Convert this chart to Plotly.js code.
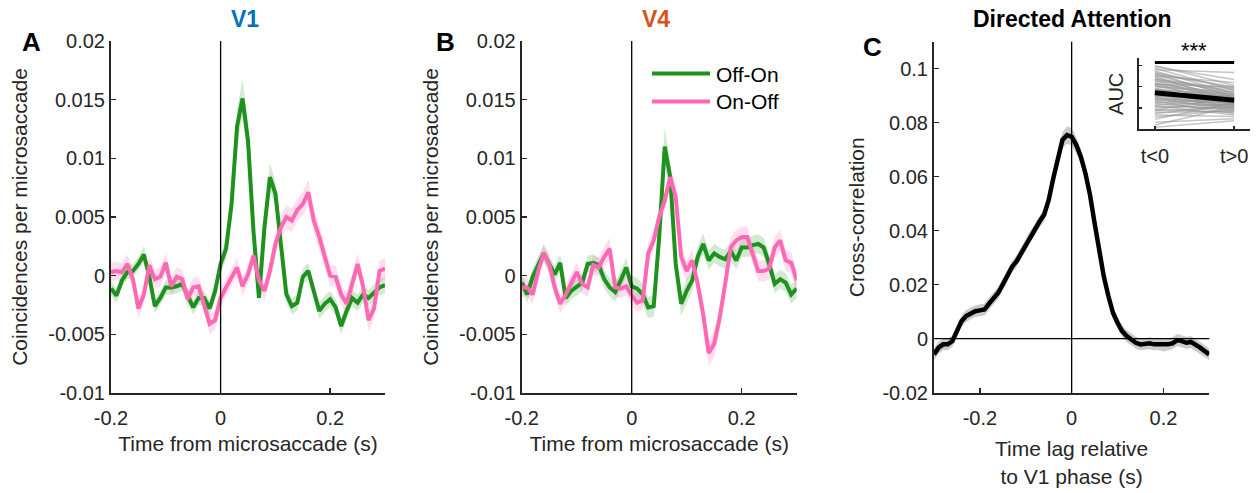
<!DOCTYPE html>
<html>
<head>
<meta charset="utf-8">
<script src="https://cdn.plot.ly/plotly-3.0.1.min.js"></script>
<style>html,body{margin:0;padding:0;background:#fff}#chart{width:1258px;height:493px}</style>
</head>
<body>
<div id="chart"></div>
<script>
// ---- Data ----
const timeAB = [-0.20,-0.19,-0.18,-0.17,-0.16,-0.15,-0.14,-0.13,-0.12,-0.11,-0.10,-0.09,-0.08,-0.07,-0.06,-0.05,-0.04,-0.03,-0.02,-0.01,
  0.00,0.01,0.02,0.03,0.04,0.05,0.06,0.07,0.08,0.09,0.10,0.11,0.12,0.13,0.14,0.15,0.16,0.17,0.18,0.19,0.20,0.21,0.22,0.23,0.24,0.25,0.26,0.27,0.28,0.29,0.30];

const v1OffOn = [-0.0011,-0.0017,-0.0004,0.0003,0.0004,0.0010,0.0018,-0.0001,-0.0026,-0.0019,-0.0010,-0.0010,-0.0009,-0.0007,-0.0017,-0.0027,-0.0019,-0.0019,-0.0028,-0.0013,
  0.0010,0.0023,0.0061,0.0127,0.0151,0.0115,0.0038,-0.0019,0.0041,0.0084,0.0070,0.0027,-0.0016,-0.0026,-0.0023,-0.0001,0.0004,-0.0013,-0.0030,-0.0024,-0.0020,-0.0027,-0.0043,-0.0030,-0.0019,-0.0023,-0.0016,-0.0019,-0.0014,-0.0010,-0.0008];
const v1OffOnErr = [0.0006,0.0006,0.0006,0.0006,0.0006,0.0006,0.0007,0.0006,0.0006,0.0006,0.0006,0.0006,0.0006,0.0006,0.0006,0.0006,0.0006,0.0006,0.0006,0.0007,
  0.0008,0.0009,0.0011,0.0015,0.0016,0.0015,0.0011,0.0008,0.0010,0.0012,0.0010,0.0008,0.0007,0.0007,0.0007,0.0007,0.0007,0.0007,0.0007,0.0007,0.0007,0.0007,0.0007,0.0007,0.0007,0.0007,0.0007,0.0007,0.0007,0.0007,0.0007];
const v1OnOff = [0.0003,0.0004,0.0003,0.0010,-0.0003,-0.0028,-0.0016,0.0009,-0.0003,-0.0001,0.0011,-0.0009,-0.0001,-0.0003,-0.0020,-0.0010,-0.0009,-0.0024,-0.0041,-0.0038,
  -0.0019,-0.0010,-0.0001,0.0007,-0.0009,0.0001,0.0017,-0.0004,-0.0013,0.0004,0.0027,0.0041,0.0050,0.0047,0.0056,0.0061,0.0071,0.0047,0.0033,0.0016,0.0000,-0.0001,-0.0016,-0.0024,-0.0007,0.0010,-0.0009,-0.0038,-0.0028,0.0004,0.0006];
const v1OnOffErr = [0.0008,0.0008,0.0008,0.0008,0.0008,0.0009,0.0008,0.0008,0.0008,0.0008,0.0008,0.0008,0.0008,0.0008,0.0008,0.0008,0.0008,0.0008,0.0009,0.0008,
  0.0008,0.0008,0.0008,0.0008,0.0008,0.0008,0.0009,0.0008,0.0008,0.0009,0.0010,0.0010,0.0010,0.0010,0.0010,0.0010,0.0011,0.0010,0.0010,0.0009,0.0009,0.0009,0.0009,0.0009,0.0009,0.0009,0.0009,0.0009,0.0009,0.0009,0.0009];

const v4OffOn = [-0.0006,-0.0016,-0.0001,0.0010,0.0019,0.0010,0.0001,0.0011,-0.0019,-0.0013,-0.0010,-0.0006,0.0010,0.0011,0.0009,-0.0003,-0.0010,-0.0014,-0.0004,0.0007,
  -0.0009,-0.0011,-0.0016,-0.0027,-0.0026,0.0033,0.0110,0.0084,0.0010,-0.0024,-0.0013,-0.0004,0.0016,0.0027,0.0013,0.0019,0.0016,0.0014,0.0021,0.0013,0.0024,0.0024,0.0026,0.0027,0.0024,0.0010,-0.0007,-0.0003,-0.0006,-0.0016,-0.0011];
const v4OffOnErr = [0.0007,0.0007,0.0007,0.0007,0.0007,0.0007,0.0007,0.0007,0.0007,0.0007,0.0007,0.0007,0.0007,0.0007,0.0007,0.0008,0.0008,0.0008,0.0008,0.0008,
  0.0009,0.0009,0.0009,0.0009,0.0009,0.0011,0.0016,0.0013,0.0011,0.0010,0.0010,0.0009,0.0009,0.0009,0.0008,0.0008,0.0008,0.0008,0.0008,0.0008,0.0008,0.0008,0.0008,0.0008,0.0008,0.0008,0.0008,0.0008,0.0008,0.0008,0.0008];
const v4OnOff = [-0.0010,-0.0010,-0.0016,0.0004,0.0019,0.0010,-0.0010,-0.0024,-0.0016,-0.0007,0.0003,-0.0007,-0.0010,0.0009,0.0007,0.0016,0.0023,-0.0010,-0.0011,-0.0009,
  -0.0017,-0.0023,-0.0021,0.0019,0.0030,0.0050,0.0064,0.0084,0.0067,0.0016,0.0004,0.0013,-0.0007,-0.0033,-0.0066,-0.0058,-0.0036,-0.0007,0.0024,0.0030,0.0033,0.0033,0.0019,0.0004,0.0004,0.0006,0.0024,0.0030,0.0013,0.0011,-0.0004];
const v4OnOffErr = [0.0008,0.0008,0.0008,0.0008,0.0008,0.0008,0.0008,0.0008,0.0008,0.0008,0.0008,0.0008,0.0008,0.0008,0.0008,0.0009,0.0009,0.0008,0.0008,0.0008,
  0.0008,0.0008,0.0008,0.0009,0.0009,0.0009,0.0009,0.0010,0.0010,0.0009,0.0009,0.0009,0.0009,0.0010,0.0011,0.0011,0.0010,0.0009,0.0009,0.0009,0.0009,0.0009,0.0009,0.0009,0.0009,0.0009,0.0009,0.0009,0.0009,0.0009,0.0009];

const lagC = [-0.30,-0.29,-0.28,-0.27,-0.26,-0.25,-0.24,-0.23,-0.22,-0.21,-0.20,-0.19,-0.18,-0.17,-0.16,-0.15,-0.14,-0.13,-0.12,-0.11,-0.10,-0.09,-0.08,-0.07,-0.06,-0.05,-0.04,-0.03,-0.02,-0.01,
  0.00,0.01,0.02,0.03,0.04,0.05,0.06,0.07,0.08,0.09,0.10,0.11,0.12,0.13,0.14,0.15,0.16,0.17,0.18,0.19,0.20,0.21,0.22,0.23,0.24,0.25,0.26,0.27,0.28,0.29,0.30];
const xcorrC = [-0.0058,-0.0033,-0.0021,-0.0021,-0.0009,0.0028,0.0065,0.0084,0.0094,0.0102,0.0105,0.0108,0.0130,0.0148,0.0170,0.0201,0.0231,0.0266,0.0287,0.0318,0.0348,0.0379,0.0404,0.0434,0.0459,0.0514,0.0594,0.0674,0.0736,0.0754,
  0.0748,0.0718,0.0674,0.0613,0.0533,0.0428,0.0318,0.0231,0.0158,0.0096,0.0059,0.0028,0.0010,-0.0002,-0.0015,-0.0021,-0.0018,-0.0017,-0.0021,-0.0021,-0.0025,-0.0021,-0.0017,-0.0005,-0.0009,-0.0015,-0.0012,-0.0021,-0.0033,-0.0046,-0.0058];
const xcorrErr = [0.0022,0.0022,0.0022,0.0022,0.0022,0.0022,0.0022,0.0022,0.0022,0.0022,0.0022,0.0022,0.0022,0.0022,0.0022,0.0022,0.0022,0.0022,0.0022,0.0022,0.0022,0.0022,0.0022,0.0023,0.0024,0.0025,0.0026,0.0028,0.0030,0.0032,
  0.0032,0.0030,0.0028,0.0026,0.0025,0.0024,0.0023,0.0022,0.0022,0.0022,0.0022,0.0022,0.0022,0.0022,0.0022,0.0022,0.0022,0.0022,0.0022,0.0022,0.0022,0.0022,0.0022,0.0022,0.0022,0.0022,0.0022,0.0022,0.0022,0.0022,0.0022];

// inset: per-pair AUC before (t<0) and after (t>0)
const insetCats = [1, 2];
const insetLabels = ['t<0', 't>0'];
const aucBefore = [0.90,0.88,0.86,0.84,0.82,0.80,0.79,0.78,0.76,0.75,0.74,0.72,0.71,0.70,0.69,0.68,0.66,0.65,0.64,0.63,0.62,0.61,0.60,0.58,0.57,0.56,0.55,0.54,0.53,0.52,
  0.51,0.50,0.49,0.48,0.47,0.46,0.45,0.44,0.43,0.42,0.41,0.40,0.38,0.37,0.36,0.34,0.33,0.32,0.30,0.28,0.27,0.26,0.24,0.22,0.20,0.17,0.14,0.10,0.06,0.03];
const aucAfter  = [0.62,0.70,0.55,0.80,0.50,0.58,0.45,0.60,0.48,0.66,0.40,0.52,0.44,0.57,0.38,0.55,0.42,0.49,0.35,0.60,0.47,0.40,0.53,0.33,0.45,0.37,0.50,0.30,0.42,0.46,
  0.36,0.28,0.44,0.39,0.32,0.48,0.25,0.35,0.41,0.30,0.38,0.22,0.33,0.43,0.27,0.40,0.20,0.30,0.36,0.24,0.45,0.31,0.25,0.35,0.18,0.28,0.38,0.15,0.32,0.12];
const aucMean = [0.515, 0.41];
const sigBar = [0.94, 0.94];

const legendNames = ['Off-On', 'On-Off'];

// ---- Styling ----
const GREEN = 'rgb(30,145,30)';
const GREEN_BAND = 'rgba(30,145,30,0.2)';
const PINK = 'rgb(255,105,180)';
const PINK_BAND = 'rgba(255,105,180,0.22)';
const AX = '#262626';
const FONT = 'Liberation Sans, Arial, Helvetica, sans-serif';

function band(x, y, e, color, xa, ya) {
  const up = y.map((v, i) => v + e[i]);
  const lo = y.map((v, i) => v - e[i]);
  return {x: x.concat(x.slice().reverse()), y: up.concat(lo.slice().reverse()),
    type: 'scatter', mode: 'lines', fill: 'toself', fillcolor: color, line: {width: 0},
    hoverinfo: 'skip', showlegend: false, xaxis: xa, yaxis: ya};
}
function line(x, y, color, w, xa, ya, name) {
  return {x: x, y: y, type: 'scatter', mode: 'lines', line: {color: color, width: w},
    xaxis: xa, yaxis: ya, name: name || '', showlegend: false};
}

const traces = [
  band(timeAB, v1OffOn, v1OffOnErr, GREEN_BAND, 'x', 'y'),
  band(timeAB, v1OnOff, v1OnOffErr, PINK_BAND, 'x', 'y'),
  line(timeAB, v1OffOn, GREEN, 4, 'x', 'y', legendNames[0]),
  line(timeAB, v1OnOff, PINK, 4, 'x', 'y', legendNames[1]),
  band(timeAB, v4OffOn, v4OffOnErr, GREEN_BAND, 'x2', 'y2'),
  band(timeAB, v4OnOff, v4OnOffErr, PINK_BAND, 'x2', 'y2'),
  line(timeAB, v4OffOn, GREEN, 4, 'x2', 'y2', legendNames[0]),
  line(timeAB, v4OnOff, PINK, 4, 'x2', 'y2', legendNames[1]),
  band(lagC, xcorrC, xcorrErr, 'rgba(170,170,170,0.6)', 'x3', 'y3'),
  line(lagC, xcorrC, '#000', 4.5, 'x3', 'y3')
];
for (let i = 0; i < aucBefore.length; i++) {
  traces.push(line(insetCats, [aucBefore[i], aucAfter[i]], 'rgba(150,150,150,0.55)', 1.5, 'x4', 'y4'));
}
traces.push(line(insetCats, aucMean, '#000', 5, 'x4', 'y4'));
traces.push(line(insetCats, sigBar, '#000', 3, 'x4', 'y4'));

const tickFont = {family: FONT, size: 20, color: AX};
const titleFont = {family: FONT, size: 21, color: AX};
function xax(domain, anchor, extra) {
  return Object.assign({domain: domain, anchor: anchor, showline: true, linecolor: AX, linewidth: 2,
    ticks: 'inside', ticklen: 5, tickcolor: AX, tickwidth: 1.5, showgrid: false, zeroline: false,
    tickfont: tickFont, fixedrange: true}, extra);
}
const yDomAB = [1 - 393/493, 1 - 41/493];
const abY = {range: [-0.01, 0.02], tickvals: [-0.01,-0.005,0,0.005,0.01,0.015,0.02],
  ticktext: ['-0.01','-0.005','0','0.005','0.01','0.015','0.02']};
const abX = {range: [-0.2, 0.3], tickvals: [-0.2, 0, 0.2], ticktext: ['-0.2','0','0.2'], ticklabelstandoff: 6};

const px = v => v / 1258;
const py = v => 1 - v / 493;

const layout = {
  width: 1258, height: 493, margin: {l: 0, r: 0, t: 0, b: 0},
  paper_bgcolor: '#fff', plot_bgcolor: 'rgba(0,0,0,0)',
  font: {family: FONT, color: AX},
  showlegend: false,
  xaxis: xax([px(111), px(385)], 'y', Object.assign({title: {text: 'Time from microsaccade (s)', font: titleFont, standoff: 8}}, abX)),
  yaxis: xax(yDomAB, 'x', Object.assign({title: {text: 'Coincidences per microsaccade', font: titleFont, standoff: 15}}, abY)),
  xaxis2: xax([px(521.7), px(796.7)], 'y2', Object.assign({title: {text: 'Time from microsaccade (s)', font: titleFont, standoff: 8}}, abX)),
  yaxis2: xax(yDomAB, 'x2', Object.assign({title: {text: 'Coincidences per microsaccade', font: titleFont, standoff: 15}}, abY)),
  xaxis3: xax([px(934), px(1209.3)], 'y3', {range: [-0.3, 0.3], tickvals: [-0.2, 0, 0.2], ticktext: ['-0.2','0','0.2'], ticklabelstandoff: 6,
    title: {text: 'Time lag relative<br>to V1 phase (s)', font: titleFont, standoff: 14}}),
  yaxis3: xax([py(392.7), py(41.7)], 'x3', {range: [-0.02, 0.11],
    tickvals: [-0.02, 0, 0.02, 0.04, 0.06, 0.08, 0.1], ticktext: ['-0.02','0','0.02','0.04','0.06','0.08','0.1'],
    title: {text: 'Cross-correlation', font: titleFont, standoff: 12}}),
  xaxis4: xax([px(1139), px(1250)], 'y4', {range: [0.8, 2.2], tickvals: insetCats, ticktext: insetLabels, ticklen: 3, ticklabelstandoff: 8}),
  yaxis4: xax([py(129.3), py(58.3)], 'x4', {range: [0, 1], tickvals: [0.3, 0.6, 0.9], showticklabels: false, ticklen: 3,
    title: {text: 'AUC', font: {family: FONT, size: 20, color: AX}, standoff: 8}}),
  shapes: [
    {type: 'line', xref: 'x', yref: 'y domain', x0: 0, x1: 0, y0: 0, y1: 1, line: {color: '#000', width: 1.3}},
    {type: 'line', xref: 'x2', yref: 'y2 domain', x0: 0, x1: 0, y0: 0, y1: 1, line: {color: '#000', width: 1.3}},
    {type: 'line', xref: 'x3', yref: 'y3 domain', x0: 0, x1: 0, y0: 0, y1: 1, line: {color: '#000', width: 1.3}},
    {type: 'line', xref: 'x3 domain', yref: 'y3', x0: 0, x1: 1, y0: 0, y1: 0, line: {color: '#000', width: 1.3}},
    // legend samples
    {type: 'line', xref: 'paper', yref: 'paper', x0: px(652), x1: px(710), y0: py(73.5), y1: py(73.5), line: {color: GREEN, width: 4}},
    {type: 'line', xref: 'paper', yref: 'paper', x0: px(652), x1: px(710), y0: py(101.5), y1: py(101.5), line: {color: PINK, width: 4}}
  ],
  annotations: [
    {text: legendNames[0], xref: 'paper', yref: 'paper', x: px(714), y: py(74), xanchor: 'left', yanchor: 'middle', showarrow: false, font: {family: FONT, size: 21, color: '#000'}},
    {text: legendNames[1], xref: 'paper', yref: 'paper', x: px(714), y: py(102), xanchor: 'left', yanchor: 'middle', showarrow: false, font: {family: FONT, size: 21, color: '#000'}},
    {text: '<b>V1</b>', xref: 'paper', yref: 'paper', x: px(245), y: py(19), xanchor: 'center', yanchor: 'middle', showarrow: false, font: {family: FONT, size: 23, color: '#0072BD'}},
    {text: '<b>V4</b>', xref: 'paper', yref: 'paper', x: px(656), y: py(19), xanchor: 'center', yanchor: 'middle', showarrow: false, font: {family: FONT, size: 23, color: '#D95319'}},
    {text: '<b>Directed Attention</b>', xref: 'paper', yref: 'paper', x: px(1072), y: py(19), xanchor: 'center', yanchor: 'middle', showarrow: false, font: {family: FONT, size: 23, color: '#000'}},
    {text: '<b>A</b>', xref: 'paper', yref: 'paper', x: px(31), y: py(42), xanchor: 'center', yanchor: 'middle', showarrow: false, font: {family: FONT, size: 26, color: '#000'}},
    {text: '<b>B</b>', xref: 'paper', yref: 'paper', x: px(445), y: py(42), xanchor: 'center', yanchor: 'middle', showarrow: false, font: {family: FONT, size: 26, color: '#000'}},
    {text: '<b>C</b>', xref: 'paper', yref: 'paper', x: px(872), y: py(47), xanchor: 'center', yanchor: 'middle', showarrow: false, font: {family: FONT, size: 26, color: '#000'}},
    {text: '***', xref: 'paper', yref: 'paper', x: px(1194), y: py(50), xanchor: 'center', yanchor: 'middle', showarrow: false, font: {family: FONT, size: 22, color: '#000'}}
  ]
};

Plotly.newPlot('chart', traces, layout, {staticPlot: true, displayModeBar: false});
</script>
</body>
</html>
